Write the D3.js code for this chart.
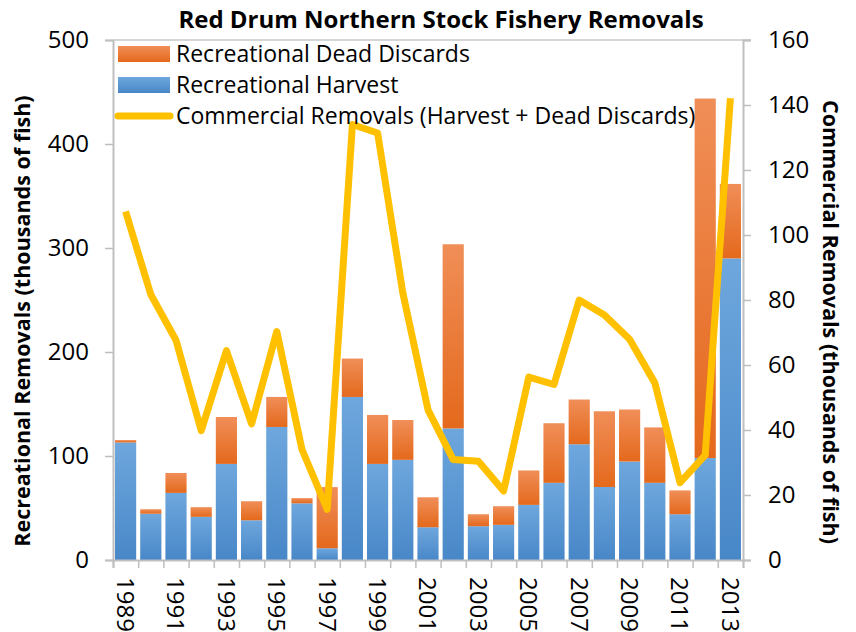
<!DOCTYPE html>
<html>
<head>
<meta charset="utf-8">
<script src="https://cdn.jsdelivr.net/npm/d3@7"></script>
<style>
  body { margin: 0; background: #fff; }
  svg { display: block; font-family: "Open Sans", sans-serif; }
</style>
</head>
<body>
<div id="vis"></div>
<script>
const years = d3.range(1989, 2014);
const harvest = [113, 44.5, 64.5, 41.5, 92.4, 38.2, 127.9, 54.5, 11.3, 156.8, 92.4, 96.3,
  31.5, 126.5, 32.5, 33.8, 53, 74.2, 111.3, 70.2, 94.7, 74.2, 44, 98, 290];
const deadDiscards = [2.3, 4.3, 19.2, 9.3, 45.1, 18.3, 28.9, 5, 58.8, 36.9, 47.1, 38.3,
  28.8, 177.1, 11.5, 17.9, 33.1, 57.3, 43, 72.8, 50, 53.3, 22.9, 345.7, 71.6];
const commercial = [107.2, 81.7, 67.6, 39.8, 64.4, 41.9, 70.3, 34, 15.6, 134, 131.4, 82.2,
  46.2, 30.9, 30.4, 21.2, 56.3, 54, 80, 75.4, 67.9, 54.5, 23.8, 32.3, 142.1];
const leftTicks = [0, 100, 200, 300, 400, 500];
const rightTicks = [0, 20, 40, 60, 80, 100, 120, 140, 160];

const W = 856, H = 632;
const m = { left: 113, right: 743, top: 40, bottom: 560 };

const svg = d3.select("#vis").append("svg").attr("width", W).attr("height", H);

const defs = svg.append("defs");
function grad(id, top, bottom) {
  const g = defs.append("linearGradient").attr("id", id)
    .attr("x1", 0).attr("y1", 0).attr("x2", 0).attr("y2", 1);
  g.append("stop").attr("offset", "0%").attr("stop-color", top);
  g.append("stop").attr("offset", "100%").attr("stop-color", bottom);
}
grad("gBlue", "#6ea7dd", "#4887c8");
grad("gOrange", "#f08e58", "#e4691c");

const x = d3.scaleBand().domain(years).range([m.left, m.right]).paddingInner(0.16).paddingOuter(0.08);
const yL = d3.scaleLinear().domain([0, 500]).range([m.bottom, m.top]);
const yR = d3.scaleLinear().domain([0, 160]).range([m.bottom, m.top]);

const rows = years.map((yr, i) => ({ year: yr, harvest: harvest[i], discards: deadDiscards[i] }));
const stacked = d3.stack().keys(["harvest", "discards"])(rows);
const fills = { harvest: "url(#gBlue)", discards: "url(#gOrange)" };

// top border line
svg.append("line").attr("x1", m.left).attr("x2", m.right + 8)
  .attr("y1", m.top).attr("y2", m.top).attr("stroke", "#c8c8c8").attr("stroke-width", 1.5);

svg.append("g").selectAll("g").data(stacked).join("g")
  .attr("fill", d => fills[d.key])
  .selectAll("rect").data(d => d).join("rect")
  .attr("x", d => x(d.data.year))
  .attr("width", x.bandwidth())
  .attr("y", d => yL(d[1]))
  .attr("height", d => yL(d[0]) - yL(d[1]));

// commercial line
svg.append("path").datum(commercial)
  .attr("fill", "none").attr("stroke", "#ffc000").attr("stroke-width", 7)
  .attr("stroke-linejoin", "round")
  .attr("d", d3.line().x((d, i) => x(years[i]) + x.bandwidth() / 2).y(d => yR(d)));

// axes
const axisColor = "#bfbfbf";
const gL = svg.append("g").attr("transform", `translate(${m.left},0)`)
  .call(d3.axisLeft(yL).tickValues(leftTicks).tickSize(8).tickPadding(16));
const gR = svg.append("g").attr("transform", `translate(${m.right},0)`)
  .call(d3.axisRight(yR).tickValues(rightTicks).tickSize(8).tickPadding(17));

const xb = d3.scaleLinear().domain([0, years.length]).range([m.left, m.right]);
const gX = svg.append("g").attr("transform", `translate(0,${m.bottom})`)
  .call(d3.axisBottom(xb).tickValues(d3.range(0, years.length + 1)).tickSize(8).tickFormat(""));

[gL, gR, gX].forEach(g => {
  g.select(".domain").attr("stroke", axisColor).attr("stroke-width", 2);
  g.selectAll(".tick line").attr("stroke", axisColor).attr("stroke-width", 1.5);
  g.selectAll("text").attr("font-size", 24).attr("fill", "#000").attr("font-family", "'Open Sans', sans-serif");
});

// year labels rotated
svg.append("g").selectAll("text").data(years.filter((d, i) => i % 2 === 0)).join("text")
  .attr("transform", d => `translate(${x(d) + x.bandwidth() / 2},577) rotate(90)`)
  .attr("dy", "0.36em")
  .attr("font-size", 24)
  .text(d => d);

// title
svg.append("text").attr("x", 441).attr("y", 28).attr("text-anchor", "middle")
  .attr("font-size", 24).attr("font-weight", "bold").text("Red Drum Northern Stock Fishery Removals");

// axis titles
svg.append("text").attr("transform", `translate(30,321) rotate(-90)`)
  .attr("text-anchor", "middle").attr("font-size", 21.5).attr("font-weight", "bold")
  .text("Recreational Removals (thousands of fish)");
svg.append("text").attr("transform", `translate(823,322) rotate(90)`)
  .attr("text-anchor", "middle").attr("font-size", 21.5).attr("font-weight", "bold")
  .text("Commercial Removals (thousands of fish)");

// legend
const legendItems = [
  { label: "Recreational Dead Discards", type: "rect", fill: "url(#gOrange)" },
  { label: "Recreational Harvest", type: "rect", fill: "url(#gBlue)" },
  { label: "Commercial Removals (Harvest + Dead Discards)", type: "line" }
];
const lg = svg.append("g").selectAll("g").data(legendItems).join("g")
  .attr("transform", (d, i) => `translate(118,${54 + i * 31})`);
lg.filter(d => d.type === "rect").append("rect")
  .attr("x", 0).attr("y", -8).attr("width", 52).attr("height", 16).attr("fill", d => d.fill);
lg.filter(d => d.type === "line").append("line")
  .attr("x1", 0).attr("x2", 52).attr("stroke", "#ffc000").attr("stroke-width", 7).attr("stroke-linecap", "round");
lg.append("text").attr("x", 58).attr("dy", "0.35em").attr("font-size", 23).text(d => d.label);
</script>
</body>
</html>
